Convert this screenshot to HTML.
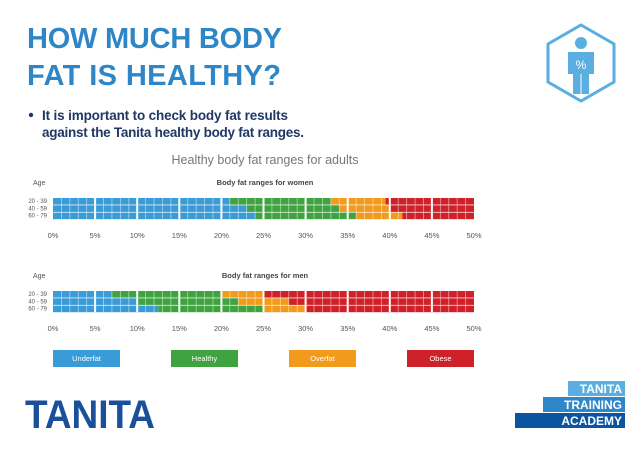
<!DOCTYPE html>
<html><head><meta charset="utf-8"><style>
html,body{margin:0;padding:0;background:#fff;}
body{width:638px;height:453px;overflow:hidden;font-family:"Liberation Sans",sans-serif;}
</style></head><body>
<svg id="s" width="638" height="453" viewBox="0 0 638 453" xmlns="http://www.w3.org/2000/svg">
<text x="27" y="48" font-size="29" font-weight="bold" fill="#2e86c6" textLength="255">HOW MUCH BODY</text>
<text x="27" y="85" font-size="29" font-weight="bold" fill="#2e86c6" textLength="254">FAT IS HEALTHY?</text>
<circle cx="31" cy="115" r="2.2" fill="#1f3864"/>
<text x="42" y="120" font-size="13.5" font-weight="bold" fill="#1f3864" textLength="246">It is important to check body fat results</text>
<text x="42" y="137" font-size="13.5" font-weight="bold" fill="#1f3864" textLength="262">against the Tanita healthy body fat ranges.</text>
<g>
<polygon points="581,25 614,44 614,82 581,101 548,82 548,44" fill="none" stroke="#5aaee0" stroke-width="3"/>
<circle cx="581" cy="43" r="6" fill="#5aaee0"/>
<path d="M568,52 h26 v22 h-5 v20 h-16 v-20 h-5 z" fill="#5aaee0"/>
<line x1="581" y1="74" x2="581" y2="94" stroke="#fff" stroke-width="1"/>
<text x="581" y="69" font-size="12" fill="#fff" text-anchor="middle">%</text>
</g>
<text x="265" y="164" font-size="12.5" fill="#777" text-anchor="middle">Healthy body fat ranges for adults</text>
<g id="charts"></g>
<text x="25" y="428" font-size="40" font-weight="bold" fill="#1a4f9c" textLength="130" lengthAdjust="spacingAndGlyphs">TANITA</text>
<rect x="568" y="381" width="57" height="15" fill="#5aaee0"/>
<rect x="543" y="397" width="82" height="15" fill="#2f86c8"/>
<rect x="515" y="413" width="110" height="15" fill="#0b55a0"/>
<text x="622" y="393" font-size="12" font-weight="bold" fill="#fff" text-anchor="end">TANITA</text>
<text x="622" y="409" font-size="12" font-weight="bold" fill="#fff" text-anchor="end">TRAINING</text>
<text x="622" y="425" font-size="12" font-weight="bold" fill="#fff" text-anchor="end">ACADEMY</text>
</svg>
<script>
const ageGroups = ["20 - 39", "40 - 59", "60 - 79"];
const womenUnderfat = [21, 23, 24];
const womenHealthy = [33, 34, 36];
const womenOverfat = [39.5, 40, 41.5];
const menUnderfat = [7, 10, 12.5];
const menHealthy = [20, 22, 25];
const menOverfat = [25, 28, 30];
const tickLabels = ["0%","5%","10%","15%","20%","25%","30%","35%","40%","45%","50%"];
const tickValues = [0,5,10,15,20,25,30,35,40,45,50];
const legendLabels = ["Underfat","Healthy","Overfat","Obese"];
const colors = ["#3a9bd9","#3fa33f","#f29a1c","#cf2129"];
const NS = "http://www.w3.org/2000/svg";
const g = document.getElementById("charts");
const x = v => 53 + v * (474 - 53) / 50;
function mk(tag, attrs){const e=document.createElementNS(NS,tag);for(const k in attrs)e.setAttribute(k,attrs[k]);g.appendChild(e);return e;}
function txt(x0,y0,s,size,fill,anchor,weight){const t=mk("text",{x:x0,y:y0,"font-size":size,fill:fill,"text-anchor":anchor||"start","font-weight":weight||"normal"});t.textContent=s;return t;}
function chart(top, label, under, healthy, over, gender){
  let t=txt(33,top-13,"Age",7,"#555");
  
  
  t=txt(265,top-13,label,7.5,"#444","middle","bold");
  
  
  ageGroups.forEach((ag,i)=>{
    const y=top+i*7.3;
    const l=txt(47,y+5,ag,6,"#555","end");
    
    
    const edges=[0,under[i],healthy[i],over[i],50];
    for(let c=0;c<4;c++){
      const r=mk("rect",{x:x(edges[c]),y:y,width:x(edges[c+1])-x(edges[c]),height:6.6,fill:colors[c]});
      
      
    }
    for(let p=1;p<50;p++){
      const big=p%5===0;
      const ln=mk("rect",{x:x(p)-(big?1:0.4),y:y,width:big?2:0.8,height:6.6,fill:"#fff","fill-opacity":big?1:0.55});
      
      
    }
  });
  tickValues.forEach((v,i)=>{
    const tk=txt(x(v),top+40,tickLabels[i],7.5,"#555","middle");
    
    
  });
}
chart(198,"Body fat ranges for women",womenUnderfat,womenHealthy,womenOverfat,"women");
chart(291,"Body fat ranges for men",menUnderfat,menHealthy,menOverfat,"men");
const legendX=[53,171,289,407];
legendLabels.forEach((s,i)=>{
  const r=mk("rect",{x:legendX[i],y:350,width:67,height:17,fill:colors[i]});
  
  
  const t=txt(legendX[i]+33.5,361,s,7.5,"#fff","middle");
  
  
});
</script>
</body></html>
